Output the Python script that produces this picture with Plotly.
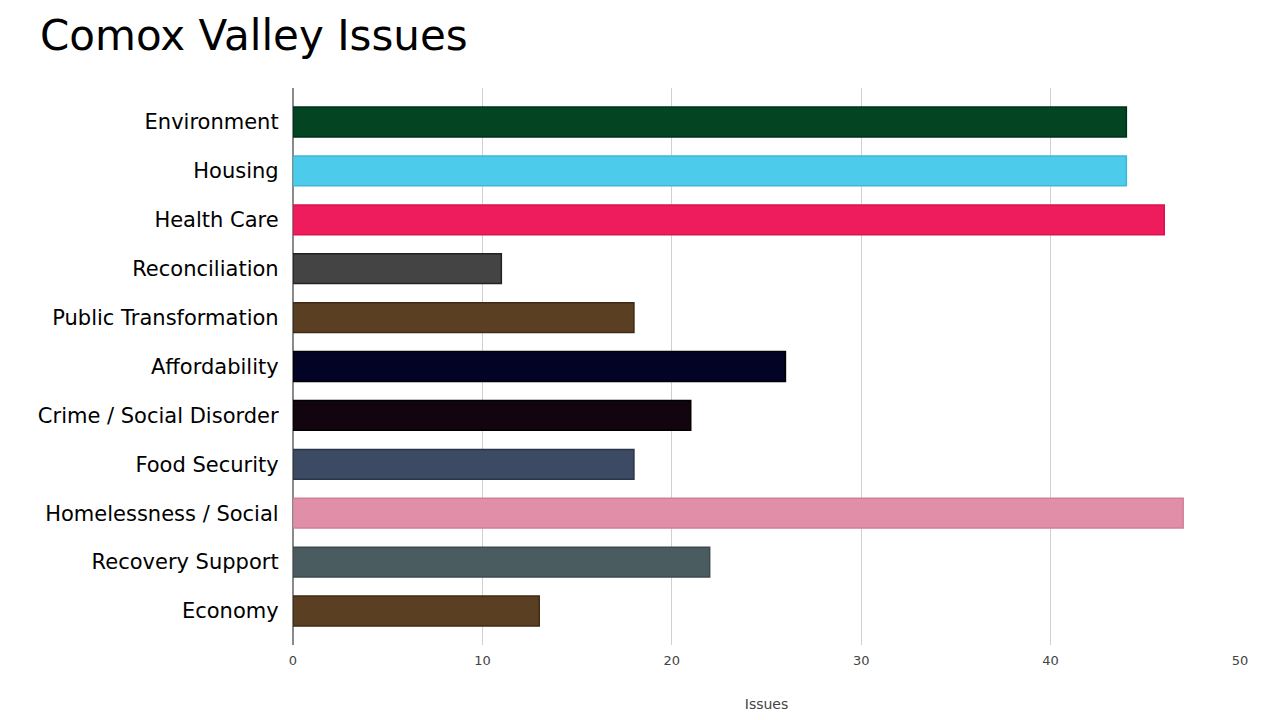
import plotly.graph_objects as go

categories = ["Environment", "Housing", "Health Care", "Reconciliation",
              "Public Transformation", "Affordability", "Crime / Social Disorder",
              "Food Security", "Homelessness / Social", "Recovery Support", "Economy"]
values = [44, 44, 46, 11, 18, 26, 21, 18, 47, 22, 13]
colors = ["#034423", "#4dcbea", "#ee1c5d", "#444444", "#5b3f22", "#020325",
          "#120510", "#3c4a63", "#e08fa9", "#4b5c60", "#5b3f22"]
outlines = ["#01301a", "#3cb8d8", "#d8144f", "#222222", "#3e2a14", "#000000",
            "#000000", "#2a3548", "#d27f99", "#3b4a4e", "#3e2a14"]
x_ticks = [0, 10, 20, 30, 40, 50]

FONT = "DejaVu Sans"

fig = go.Figure(go.Bar(
    x=values, y=categories, orientation="h",
    marker=dict(color=colors, line=dict(color=outlines, width=1.5)),
    width=0.61,
))

fig.update_layout(
    width=1280, height=720,
    margin=dict(l=293, r=40, t=88, b=75),
    plot_bgcolor="white", paper_bgcolor="white",
    showlegend=False,
    title=dict(text="Comox Valley Issues", x=40/1280, xanchor="left",
               y=1-35/720, yanchor="middle", xref="container", yref="container",
               font=dict(family=FONT, size=42, color="#000000")),
    xaxis=dict(range=[0, 50], tickvals=x_ticks, showgrid=True, gridcolor="#d0d0d0",
               gridwidth=1, zeroline=True, zerolinecolor="#8a8a8a", zerolinewidth=1.5,
               tickfont=dict(family=FONT, size=13, color="#444444"),
               ticks="", showline=False, ticklabelstandoff=6, automargin=False,
               title=dict(text="Issues", font=dict(family=FONT, size=14, color="#444444"),
                          standoff=32)),
    yaxis=dict(categoryorder="array", categoryarray=categories,
               range=[10.695, -0.695], showgrid=False, ticks="", automargin=False,
               tickfont=dict(family=FONT, size=21, color="#000000"),
               ticksuffix="  "),
)

fig.write_html("out.html")
